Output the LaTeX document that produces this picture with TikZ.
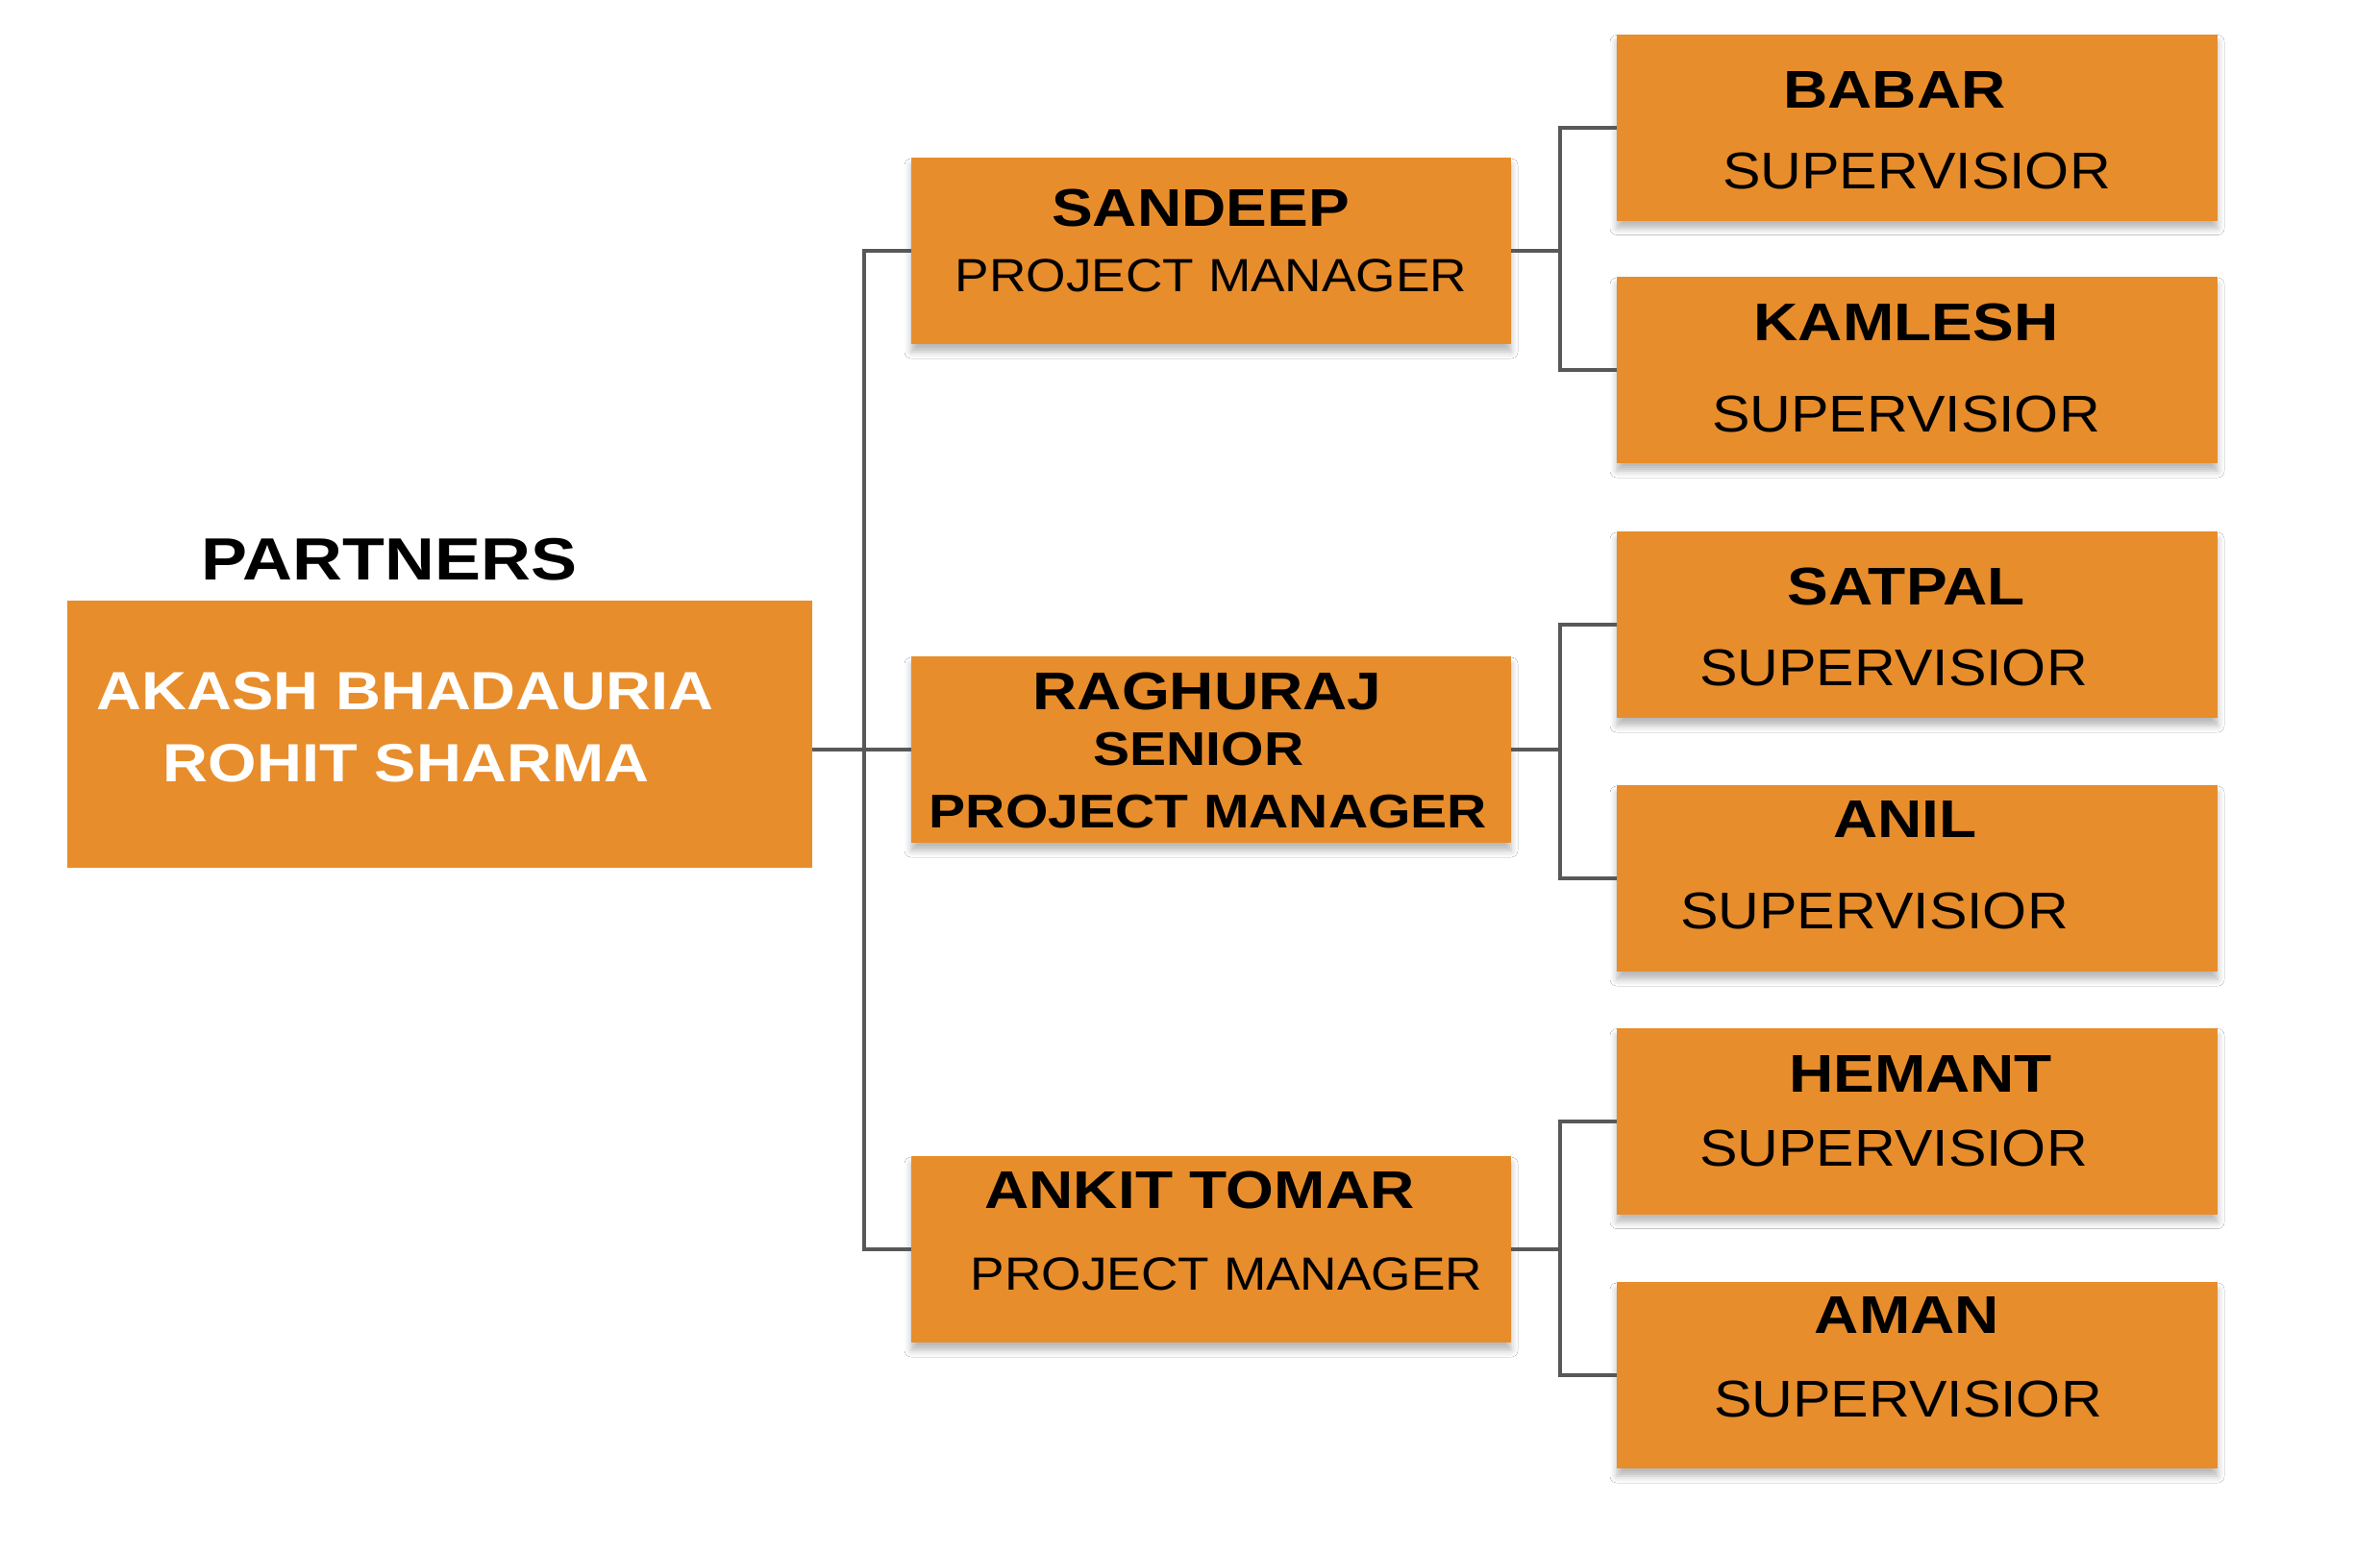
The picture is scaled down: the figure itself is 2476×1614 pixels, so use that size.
\documentclass[tikz,border=0pt]{standalone}
\usepackage{fontspec}
\setmainfont{Liberation Sans}
\newfontfamily\bfam[FakeStretch=1.16]{Liberation Sans}
\newfontfamily\rfam[FakeStretch=1.1]{Liberation Sans}
\usetikzlibrary{shadows.blur}
\definecolor{boxorange}{RGB}{232,141,43}
\definecolor{linegray}{RGB}{88,88,88}
\begin{document}
\begin{tikzpicture}[x=0.5pt,y=-0.5pt,
  obox/.style={fill=boxorange, draw=none, inner sep=0pt},
  pmbox/.style={obox, minimum width=312pt, minimum height=97pt,
     blur shadow={shadow xshift=0pt, shadow yshift=-4pt, shadow opacity=28, shadow blur radius=3.5pt}},
  supbox/.style={obox, minimum width=312.5pt, minimum height=97pt,
     blur shadow={shadow xshift=0pt, shadow yshift=-4pt, shadow opacity=28, shadow blur radius=3.5pt}},
  conn/.style={draw=linegray, line width=2pt, line join=miter},
  nm/.style={inner sep=0pt, font=\bfam\bfseries\fontsize{27.6pt}{30pt}\selectfont},
  sup/.style={inner sep=0pt, font=\rfam\fontsize{26.9pt}{30pt}\selectfont},
  pmr/.style={inner sep=0pt, font=\rfam\fontsize{24.2pt}{27pt}\selectfont},
  pmb/.style={inner sep=0pt, font=\bfam\bfseries\fontsize{24.6pt}{27pt}\selectfont},
  wtext/.style={inner sep=0pt, text=white, font=\bfam\bfseries\fontsize{28pt}{30pt}\selectfont}]
\fill[fill=white] (0,0) rectangle (2476,1614);
\useasboundingbox (0,0) rectangle (2476,1614);

% coordinates for the buses
\coordinate (busL) at (899,0);
\coordinate (busR) at (1623,0);

% boxes
\node[obox, minimum width=387.5pt, minimum height=139pt] (partners) at (457.5,764) {};
\node[pmbox] (sandeep) at (1260,261) {};
\node[pmbox] (rag) at (1260,780) {};
\node[pmbox] (ankit) at (1260,1300) {};
\node[supbox] (babar) at (1994.5,132.5) {};
\node[supbox] (kamlesh) at (1994.5,385) {};
\node[supbox] (satpal) at (1994.5,650) {};
\node[supbox] (anil) at (1994.5,914) {};
\node[supbox] (hemant) at (1994.5,1166.5) {};
\node[supbox] (aman) at (1994.5,1431) {};

% connectors
\draw[conn] (rag.west) -- (partners.east |- rag.west);
\draw[conn] (sandeep.west) -- (sandeep.west -| busL) -- (ankit.west -| busL) -- (ankit.west);
\draw[conn] (sandeep.east) -- (sandeep.east -| busR);
\draw[conn] (babar.west) -- (babar.west -| busR) -- (kamlesh.west -| busR) -- (kamlesh.west);
\draw[conn] (rag.east) -- (rag.east -| busR);
\draw[conn] (satpal.west) -- (satpal.west -| busR) -- (anil.west -| busR) -- (anil.west);
\draw[conn] (ankit.east) -- (ankit.east -| busR);
\draw[conn] (hemant.west) -- (hemant.west -| busR) -- (aman.west -| busR) -- (aman.west);

% texts
\node[inner sep=0pt, font=\bfam\bfseries\fontsize{31pt}{34pt}\selectfont] (tpartners) at (405,582.5) {PARTNERS};
\node[wtext] (takash) at (421.5,719.5) {AKASH BHADAURIA};
\node[wtext] (trohit) at (422.5,794) {ROHIT SHARMA};

\node[nm] (tsandeep) at (1249,216) {SANDEEP};
\node[pmr] (tsandeeprole) at (1260,287) {PROJECT MANAGER};

\node[nm] (trag) at (1256,719) {RAGHURAJ};
\node[pmb] (tsenior) at (1247,780) {SENIOR};
\node[pmb] (tragrole) at (1257,844.5) {PROJECT MANAGER};

\node[nm] (tankit) at (1248,1238) {ANKIT TOMAR};
\node[pmr] (tankitrole) at (1276,1326) {PROJECT MANAGER};

\node[nm] (tbabar) at (1971,93) {BABAR};
\node[sup] (tbabarrole) at (1994,178) {SUPERVISIOR};
\node[nm] (tkamlesh) at (1983,335) {KAMLESH};
\node[sup] (tkamleshrole) at (1983,431) {SUPERVISIOR};
\node[nm] (tsatpal) at (1983,610) {SATPAL};
\node[sup] (tsatpalrole) at (1970,695) {SUPERVISIOR};
\node[nm] (tanil) at (1982,852) {ANIL};
\node[sup] (tanilrole) at (1950,948) {SUPERVISIOR};
\node[nm] (themant) at (1998,1117) {HEMANT};
\node[sup] (themantrole) at (1970,1195) {SUPERVISIOR};
\node[nm] (taman) at (1984,1368) {AMAN};
\node[sup] (tamanrole) at (1985,1456) {SUPERVISIOR};
\end{tikzpicture}
\end{document}
